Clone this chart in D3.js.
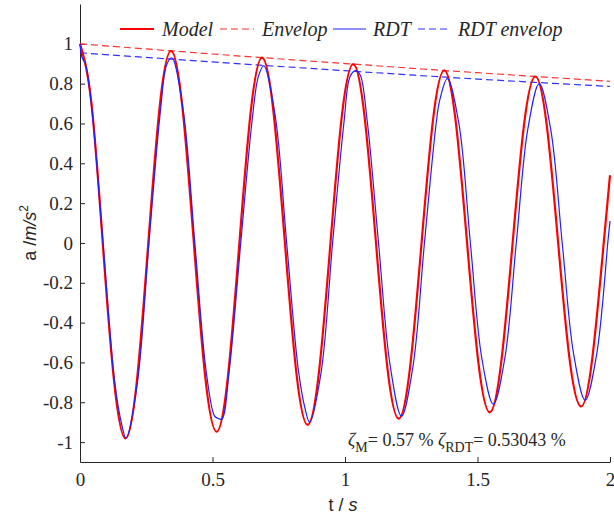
<!DOCTYPE html>
<html>
<head>
<meta charset="utf-8">
</head>
<body style="margin:0">
<script src="https://cdn.jsdelivr.net/npm/d3@7/dist/d3.min.js"></script>
<script>
// Model curve: time (s) and acceleration values
const modelT = [0, 0.0430, 0.0859, 0.1289, 0.1719, 0.2148, 0.2578, 0.3007, 0.3437, 0.3867,
  0.4296, 0.4726, 0.5156, 0.5585, 0.6015, 0.6444, 0.6874, 0.7304, 0.7733, 0.8163,
  0.8593, 0.9022, 0.9452, 0.9882, 1.0311, 1.0741, 1.1170, 1.1600, 1.2030, 1.2459,
  1.2889, 1.3319, 1.3748, 1.4178, 1.4607, 1.5037, 1.5467, 1.5896, 1.6326, 1.6756,
  1.7185, 1.7615, 1.8044, 1.8474, 1.8904, 1.9333, 1.9763, 2.0];
const modelA = [1, 0.704, 0, -0.698, -0.982, -0.692, 0, 0.685, 0.965, 0.679,
  0, -0.673, -0.948, -0.667, 0, 0.661, 0.931, 0.655, 0, -0.650,
  -0.914, -0.644, 0, 0.638, 0.898, 0.632, 0, -0.627, -0.882, -0.621,
  0, 0.616, 0.867, 0.610, 0, -0.605, -0.851, -0.599, 0, 0.594,
  0.836, 0.589, 0, -0.583, -0.821, -0.578, 0, 0.34];

// RDT curve
const rdtT = [0, 0.008, 0.02, 0.0433, 0.0867, 0.1300, 0.158, 0.1733, 0.2166, 0.2600,
  0.3033, 0.327, 0.3466, 0.3899, 0.4333, 0.4766, 0.508, 0.5199, 0.535, 0.5632,
  0.6066, 0.6499, 0.673, 0.6932, 0.7365, 0.7799, 0.8232, 0.849, 0.8665, 0.9098,
  0.9532, 0.9965, 1.019, 1.0398, 1.057, 1.0832, 1.1265, 1.1698, 1.2131, 1.2565,
  1.2998, 1.3431, 1.358, 1.3864, 1.4297, 1.4731, 1.5164, 1.5597, 1.6030, 1.6464,
  1.6897, 1.7330, 1.7763, 1.8197, 1.8630, 1.9063, 1.9496, 1.9930, 2.0];
const rdtA = [1.0, 0.93, 0.90, 0.69, 0, -0.69, -0.915, -0.98, -0.70, 0,
  0.66, 0.895, 0.93, 0.66, 0, -0.65, -0.87, -0.88, -0.885, -0.64,
  0, 0.62, 0.835, 0.89, 0.64, 0, -0.63, -0.83, -0.90, -0.65,
  0, 0.61, 0.835, 0.865, 0.845, 0.62, 0, -0.61, -0.87, -0.62,
  0, 0.59, 0.72, 0.825, 0.60, 0, -0.58, -0.81, -0.58, 0,
  0.57, 0.80, 0.57, 0, -0.56, -0.79, -0.56, 0.02, 0.11];

// envelopes
const envT = [0, 0.5, 1, 1.5, 2];
const modelEnv = [1, 0.949, 0.901, 0.855, 0.812];
const rdtEnv = [0.955, 0.909, 0.865, 0.823, 0.786];

const xTicks = [0, 0.5, 1, 1.5, 2];
const yTicks = [-1, -0.8, -0.6, -0.4, -0.2, 0, 0.2, 0.4, 0.6, 0.8, 1];

const width = 614, height = 515;
const margin = { left: 80, right: 4, top: 4, bottom: 53 };

const svg = d3.select('body').append('svg')
  .attr('width', width).attr('height', height)
  .attr('font-family', 'Liberation Serif');

const x = d3.scaleLinear().domain([0, 2]).range([margin.left, width - margin.right]);
const y = d3.scaleLinear().domain([-1.1, 1.2]).range([height - margin.bottom, margin.top]);

const axisColor = '#262626';

// axes with inward ticks
const gx = svg.append('g')
  .attr('transform', 'translate(0,' + y(-1.1) + ')')
  .call(d3.axisBottom(x).tickValues(xTicks).tickSizeInner(-5).tickSizeOuter(0)
    .tickPadding(11).tickFormat(d => String(d)));
const gy = svg.append('g')
  .attr('transform', 'translate(' + x(0) + ',0)')
  .call(d3.axisLeft(y).tickValues(yTicks).tickSizeInner(-5).tickSizeOuter(0)
    .tickPadding(7).tickFormat(d => String(d)));

[gx, gy].forEach(g => {
  g.attr('font-family', null).attr('font-size', 19);
  g.select('.domain').attr('stroke', axisColor).attr('stroke-width', 1);
  g.selectAll('.tick line').attr('stroke', axisColor);
  g.selectAll('.tick text').attr('fill', axisColor).attr('font-family', 'Liberation Serif');
});
gy.selectAll('.tick text').attr('dy', '0.32em');

// lines
const lineModel = d3.line().x((d, i) => x(modelT[i])).y(d => y(d)).curve(d3.curveNatural);
const lineRdt = d3.line().x((d, i) => x(rdtT[i])).y(d => y(d)).curve(d3.curveCatmullRom.alpha(0.5));
const lineEnv = d3.line().x((d, i) => x(envT[i])).y(d => y(d)).curve(d3.curveNatural);

svg.append('path').datum(modelEnv).attr('d', lineEnv)
  .attr('fill', 'none').attr('stroke', '#ff3030').attr('stroke-width', 1.2)
  .attr('stroke-dasharray', '7,4');
svg.append('path').datum(rdtEnv).attr('d', lineEnv)
  .attr('fill', 'none').attr('stroke', '#3030ff').attr('stroke-width', 1.2)
  .attr('stroke-dasharray', '7,4');
svg.append('path').datum(modelA).attr('d', lineModel)
  .attr('fill', 'none').attr('stroke', '#ff0000').attr('stroke-width', 2.2);
svg.append('path').datum(rdtA).attr('d', lineRdt)
  .attr('fill', 'none').attr('stroke', '#2020ff').attr('stroke-width', 1.2);

// legend
const legend = [
  { label: 'Model', color: '#ff0000', dash: null, w: 2.2, x0: 120, x1: 154, tx: 162 },
  { label: 'Envelop', color: '#ff3030', dash: '7,4', w: 1.2, x0: 220, x1: 254, tx: 262 },
  { label: 'RDT', color: '#2020ff', dash: null, w: 1.2, x0: 333, x1: 366, tx: 373 },
  { label: 'RDT envelop', color: '#3030ff', dash: '7,4', w: 1.2, x0: 418, x1: 451, tx: 458 }
];
legend.forEach(l => {
  svg.append('line').attr('x1', l.x0).attr('x2', l.x1).attr('y1', 29).attr('y2', 29)
    .attr('stroke', l.color).attr('stroke-width', l.w)
    .attr('stroke-dasharray', l.dash);
  svg.append('text').attr('x', l.tx).attr('y', 36)
    .attr('font-family', 'Liberation Serif').attr('font-size', 20)
    .attr('font-style', 'italic').attr('fill', '#262626')
    .text(l.label);
});

// axis labels
const ylab = svg.append('text').attr('font-family', 'Liberation Sans').attr('font-size', 18)
  .attr('fill', '#262626')
  .attr('transform', 'translate(36,233) rotate(-90)')
  .attr('text-anchor', 'middle');
ylab.append('tspan').text('a /');
ylab.append('tspan').attr('font-style', 'italic').text('m/s');
ylab.append('tspan').attr('font-size', 12).attr('dy', -8).text('2');

const xlab = svg.append('text').attr('font-family', 'Liberation Sans').attr('font-size', 18)
  .attr('fill', '#262626')
  .attr('x', 343).attr('y', 511)
  .attr('text-anchor', 'middle');
xlab.append('tspan').text('t / ');
xlab.append('tspan').attr('font-style', 'italic').text('s');

// damping annotation
const note = svg.append('text').attr('font-family', 'Liberation Serif').attr('font-size', 18)
  .attr('fill', '#262626')
  .attr('x', 348).attr('y', 446);
note.append('tspan').attr('font-style', 'italic').text('ζ');
note.append('tspan').attr('font-size', 14).attr('dy', 6).text('M');
note.append('tspan').attr('dy', -6).text('= 0.57 % ');
note.append('tspan').attr('font-style', 'italic').text('ζ');
note.append('tspan').attr('font-size', 14).attr('dy', 6).text('RDT');
note.append('tspan').attr('dy', -6).text('= 0.53043 %');
</script>
</body>
</html>
